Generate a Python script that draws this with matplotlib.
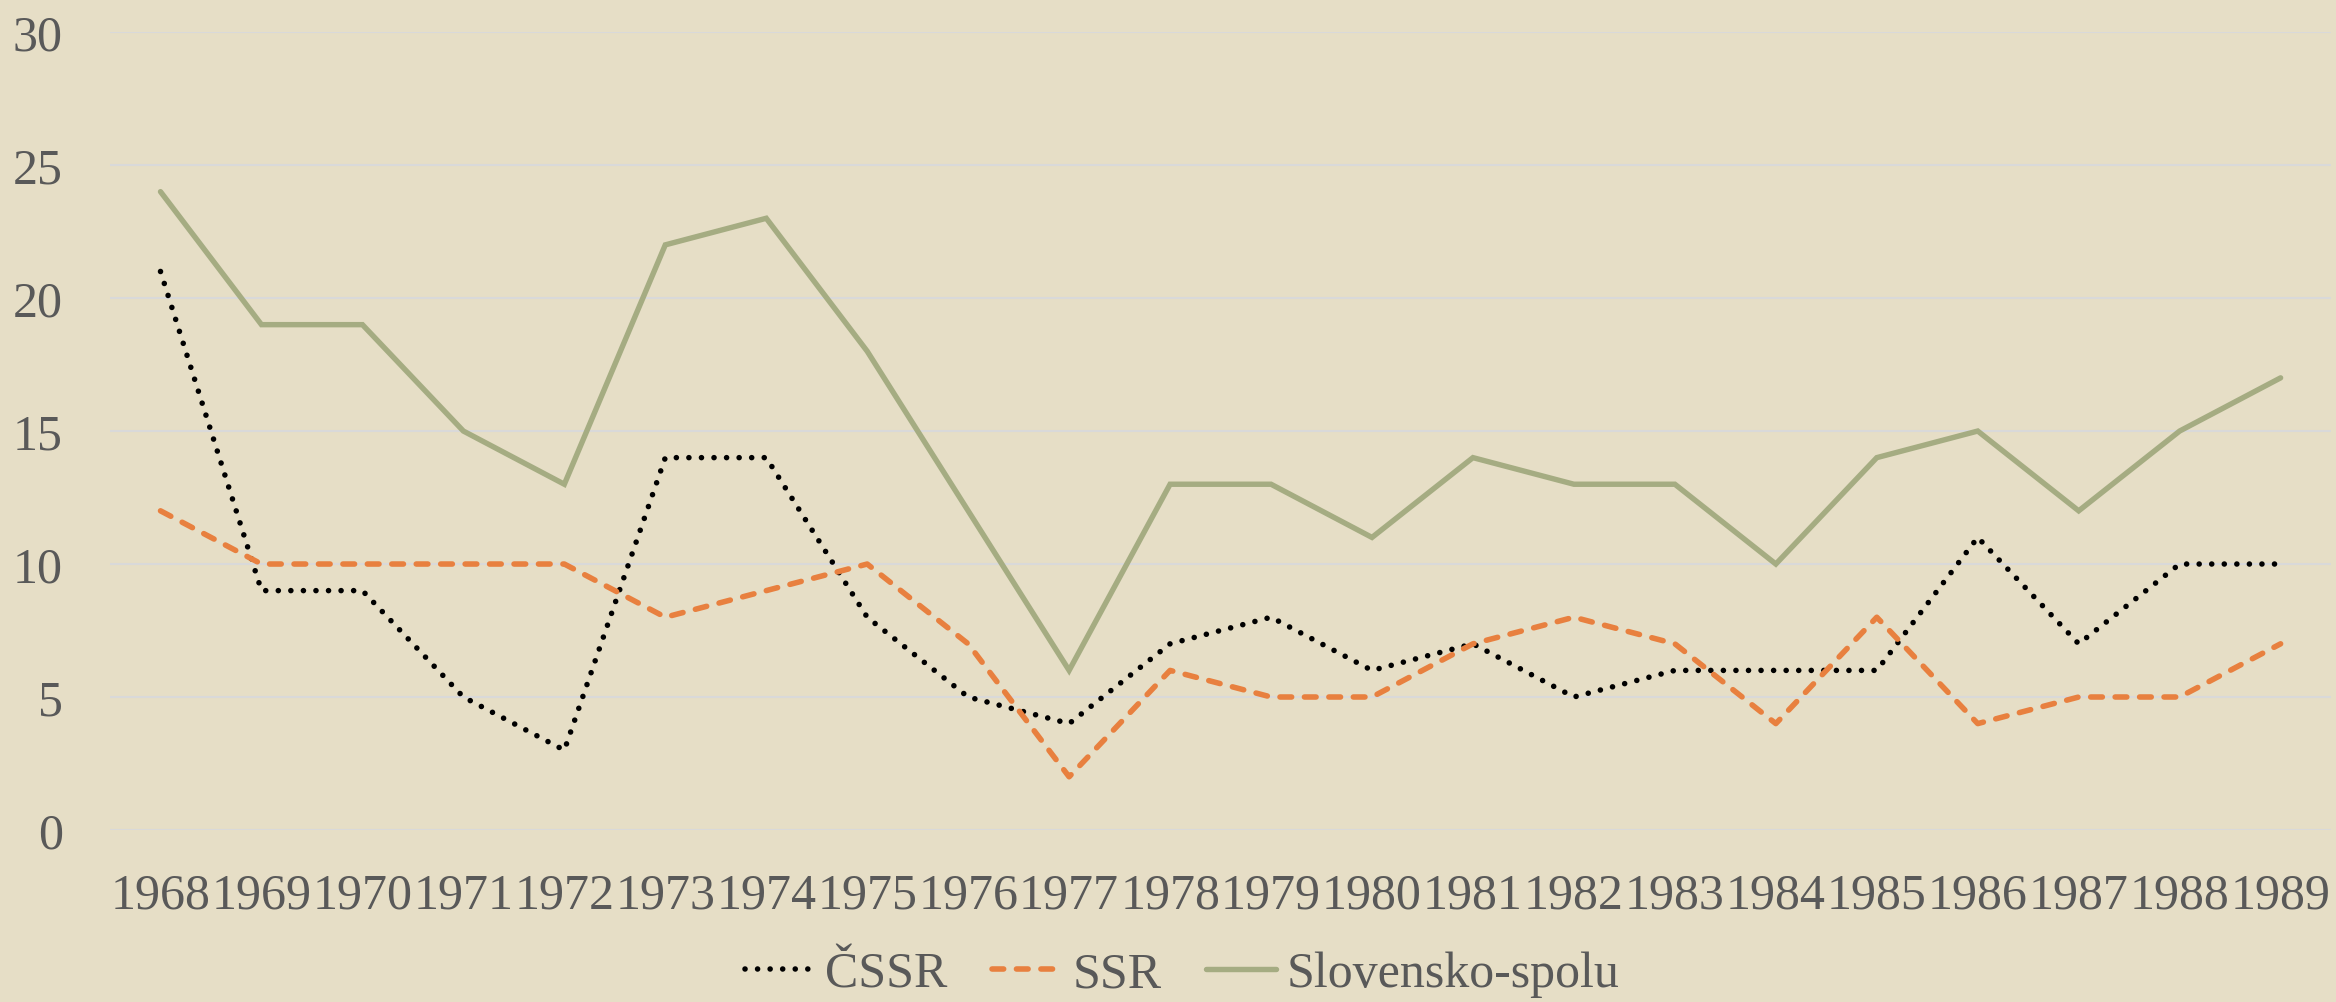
import matplotlib
matplotlib.use("Agg")
import matplotlib.pyplot as plt

# Data
years = ['1968', '1969', '1970', '1971', '1972', '1973', '1974', '1975', '1976', '1977', '1978',
         '1979', '1980', '1981', '1982', '1983', '1984', '1985', '1986', '1987', '1988', '1989']
cssr = [21, 9, 9, 5, 3, 14, 14, 8, 5, 4, 7, 8, 6, 7, 5, 6, 6, 6, 11, 7, 10, 10]
ssr = [12, 10, 10, 10, 10, 8, 9, 10, 7, 2, 6, 5, 5, 7, 8, 7, 4, 8, 4, 5, 5, 7]
slovensko = [24, 19, 19, 15, 13, 22, 23, 18, 12, 6, 13, 13, 11, 14, 13, 13, 10, 14, 15, 12, 15, 17]
y_ticks = [0, 5, 10, 15, 20, 25, 30]

bg = '#E6DEC6'
text_color = '#595959'
plt.rcParams['font.family'] = ['Liberation Serif', 'DejaVu Serif']

fig = plt.figure(figsize=(23.36, 10.03), dpi=100, facecolor=bg)
ax = fig.add_axes([0.0471, 0.1715, 0.9508, 0.7955], facecolor=bg)

x = range(len(years))
ax.plot(x, cssr, color='black', linewidth=4.0, linestyle=(0, (0.01, 2.25)),
        dash_capstyle='round', label='ČSSR', zorder=3)
ax.plot(x, ssr, color='#E8803F', linewidth=4.0, linestyle=(0, (2.1, 2.3)),
        dash_capstyle='round', label='SSR', zorder=3)
ax.plot(x, slovensko, color='#A5AC82', linewidth=3.9, solid_joinstyle='miter',
        solid_capstyle='round', label='Slovensko-spolu', zorder=3)

ax.set_xlim(-0.5, len(years) - 0.5)
ax.set_ylim(0, 30)
ax.set_yticks(y_ticks)
ax.set_xticks(list(x))
ax.set_xticklabels(years)
ax.grid(axis='y', color='#D9D9D9', linewidth=1.5, zorder=0)
ax.set_axisbelow(True)
for s in ax.spines.values():
    s.set_visible(False)
ax.tick_params(axis='both', length=0, labelsize=36, labelcolor=text_color)
ax.tick_params(axis='y', pad=34)
ax.tick_params(axis='x', pad=30)

leg = fig.legend(loc='center', bbox_to_anchor=(0.506, 0.028), ncol=3, frameon=False,
                 fontsize=36, handlelength=1.4, handletextpad=0.2, columnspacing=0.9,
                 borderaxespad=0)
for t in leg.get_texts():
    t.set_color(text_color)

fig.savefig('out.png', dpi=100, facecolor=bg)
